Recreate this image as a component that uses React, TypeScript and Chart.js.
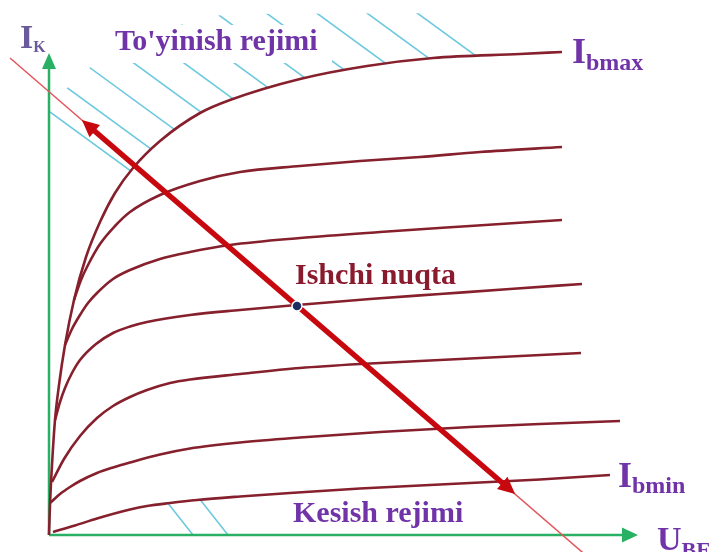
import React, { useEffect, useRef } from "react";
import { Chart, registerables } from "chart.js";

Chart.register(...registerables);

type Pt = [number, number];

// ---- axes (chart units: U along x, I along y, origin at the axes' crossing)
const uAxis: Pt[] = [[0, 0], [574, 0]];
const iAxis: Pt[] = [[0, 0], [0, 467]];

// ---- output characteristics, Ib max (top) ... Ib min (bottom)
const curveIbMax: Pt[] = [[0, 0], [1, 30], [3, 70], [6, 115], [10, 150], [16, 190], [25, 235], [37, 278], [51, 313], [66, 342], [84, 367], [111, 394], [151, 422], [181, 435], [251, 456], [318, 469], [384, 477], [471, 481], [513, 483]];
const curveIb2: Pt[] = [[25, 235], [32, 255], [39, 270], [51, 291], [66, 309], [81, 323], [111, 340], [151, 354], [191, 363], [251, 369], [311, 374], [371, 378], [431, 383], [513, 388]];
const curveIb3: Pt[] = [[16, 190], [23, 206], [31, 220], [39, 232], [48, 242], [64, 256], [81, 265], [111, 276], [141, 283], [181, 290], [251, 297], [331, 303], [421, 309], [513, 315]];
const curveIb4: Pt[] = [[6, 115], [11, 133], [16, 147], [23, 162], [31, 175], [47, 191], [64, 202], [81, 208.5], [98, 213], [141, 220], [191, 225], [248, 230], [321, 236], [391, 241], [461, 246], [533, 251]];
const curveIb5: Pt[] = [[3, 53], [15, 76], [31, 99], [48, 117], [64, 129], [81, 138], [98, 145], [121, 152], [141, 155.5], [191, 161], [251, 167], [311, 171], [371, 174], [431, 177], [532, 182]];
const curveIb6: Pt[] = [[1, 32], [11, 41], [21, 48], [31, 54], [48, 62], [64, 67.5], [81, 72.5], [111, 80.5], [141, 86.5], [191, 92.5], [251, 97.5], [331, 103], [421, 108], [491, 111], [571, 114]];
const curveIbMin: Pt[] = [[4, 3], [26, 9.5], [48, 16.5], [81, 25.5], [98, 29], [121, 32], [148, 35], [191, 38.5], [241, 42], [311, 46.5], [371, 49.5], [431, 52.5], [491, 55.5], [561, 60]];

// ---- load line and working point
const loadLine: Pt[] = [[-39, 477], [540, -23]];
const loadArrow: Pt[] = [[45, 404.5], [454, 51.5]];
const workingPoint: Pt[] = [[248, 229]];

// ---- hatched regions
const saturationZone: Pt[] = [[0, 405], [0, 422], [18, 447], [39, 466], [61, 483], [91, 497], [131, 510], [176, 521], [413, 522], [440, 470], [440, 84]];
const cutoffSpan: Pt = [113, 183];

// ---- labels
const labelSaturation = "To'yinish rejimi";
const labelCutoff = "Kesish rejimi";
const labelWorking = "Ishchi nuqta";

const SERIF = "'Liberation Serif', 'Times New Roman', serif";
const PURPLE = "#7034a8";
const CURVE = "#86202d";
const GREEN = "#28b064";
const HATCH = "#6cc9de";

const toXY = (p: Pt[]) => p.map(([x, y]) => ({ x, y }));

const curveDs = (p: Pt[]) => ({
  data: toXY(p),
  borderColor: CURVE,
  backgroundColor: CURVE,
  borderWidth: 2.6,
  pointRadius: 0,
  cubicInterpolationMode: "monotone",
  order: 50,
});

const IDX_MAX = 2;
const IDX_MIN = 8;

const arrowPlugin = {
  id: "arrowHeads",
  afterDatasetDraw(chart: any, args: any) {
    const ds: any = chart.data.datasets[args.index];
    const spec = ds.arrowHead;
    if (!spec) return;
    const pts = args.meta.data;
    const ctx = chart.ctx;
    const head = (base: any, prev: any) => {
      const a = Math.atan2(base.y - prev.y, base.x - prev.x);
      ctx.save();
      ctx.translate(base.x, base.y);
      ctx.rotate(a);
      ctx.beginPath();
      ctx.moveTo(spec.len, 0);
      ctx.lineTo(-1, -spec.half);
      ctx.lineTo(-1, spec.half);
      ctx.closePath();
      ctx.fillStyle = ds.borderColor;
      ctx.fill();
      ctx.restore();
    };
    if (spec.end) head(pts[pts.length - 1], pts[pts.length - 2]);
    if (spec.start) head(pts[0], pts[1]);
  },
};

function hatchLines(ctx: CanvasRenderingContext2D, W: number, H: number, rx: number, ry: number, slope: number, gap: number) {
  const c0 = ry - slope * rx;
  const nMin = Math.floor((-slope * W - c0) / gap) - 1;
  const nMax = Math.ceil((H - c0) / gap) + 1;
  ctx.beginPath();
  for (let n = nMin; n <= nMax; n++) {
    const c = c0 + n * gap;
    ctx.moveTo(0, c);
    ctx.lineTo(W, c + slope * W);
  }
  ctx.stroke();
}

const hatchPlugin = {
  id: "hatch",
  beforeDatasetsDraw(chart: any) {
    const { ctx, chartArea } = chart;
    const xs = chart.scales.x;
    const ys = chart.scales.y;
    const P = (p: Pt) => [xs.getPixelForValue(p[0]), ys.getPixelForValue(p[1])];
    const [ox, oy] = P([0, 0]);
    const W = chart.width;
    const H = chart.height;
    const lineEl = (idx: number) => {
      const el = chart.getDatasetMeta(idx).dataset;
      el.updateControlPoints(chartArea, "x");
      return el;
    };

    // saturation region (above Ib max)
    ctx.save();
    const top = lineEl(IDX_MAX);
    ctx.beginPath();
    top.path(ctx);
    const e1 = top.points[top.points.length - 1];
    ctx.lineTo(e1.x, 0);
    ctx.lineTo(ox, 0);
    ctx.closePath();
    ctx.clip();
    ctx.beginPath();
    saturationZone.forEach((p, k) => {
      const [x, y] = P(p);
      if (k === 0) ctx.moveTo(x, y);
      else ctx.lineTo(x, y);
    });
    ctx.closePath();
    ctx.clip();
    ctx.strokeStyle = HATCH;
    ctx.lineWidth = 1.6;
    hatchLines(ctx, W, H, ox + 1, oy - 423, 0.73, 36.7);
    ctx.restore();

    // cut-off region (below Ib min)
    ctx.save();
    const bot = lineEl(IDX_MIN);
    ctx.beginPath();
    bot.path(ctx);
    const e7 = bot.points[bot.points.length - 1];
    const s7 = bot.points[0];
    ctx.lineTo(e7.x, oy);
    ctx.lineTo(s7.x, oy);
    ctx.closePath();
    ctx.clip();
    const [cx0] = P([cutoffSpan[0], 0]);
    const [cx1] = P([cutoffSpan[1], 0]);
    ctx.beginPath();
    ctx.rect(cx0, 0, cx1 - cx0, oy);
    ctx.clip();
    ctx.strokeStyle = HATCH;
    ctx.lineWidth = 1.6;
    hatchLines(ctx, W, H, ox + 144, oy, 1.27, 44.45);
    ctx.restore();

    // white ground behind the saturation label
    ctx.save();
    ctx.fillStyle = "#ffffff";
    ctx.fillRect(100, 25, 232, 38);
    ctx.restore();
  },
};

const labelPlugin = {
  id: "labels",
  afterDraw(chart: any) {
    const ctx = chart.ctx;
    const xs = chart.scales.x;
    const ys = chart.scales.y;
    const P = (p: Pt) => [xs.getPixelForValue(p[0]), ys.getPixelForValue(p[1])];
    const put = (s: string, x: number, y: number, size: number, color: string, weight = "bold") => {
      ctx.font = `${weight} ${size}px ${SERIF}`;
      ctx.fillStyle = color;
      ctx.textAlign = "left";
      ctx.textBaseline = "alphabetic";
      ctx.fillText(s, x, y);
      return ctx.measureText(s).width;
    };
    ctx.save();
    // I_K at top of vertical axis
    const [iTx, iTy] = P(iAxis[iAxis.length - 1]);
    let w = put("I", iTx - 29, iTy - 20, 34, "#6a5a9c");
    put("K", iTx - 29 + w, iTy - 16, 16, "#6a5a9c");
    // U_BE at the end of horizontal axis
    const [uTx, uTy] = P(uAxis[uAxis.length - 1]);
    w = put("U", uTx + 34, uTy + 15, 34, PURPLE);
    put("BE", uTx + 34 + w, uTy + 22, 22, PURPLE);
    // Ib max / Ib min
    const [mx, my] = P(curveIbMax[curveIbMax.length - 1]);
    w = put("I", mx + 10, my + 11, 36, PURPLE);
    put("bmax", mx + 10 + w, my + 18, 24, PURPLE);
    const [nx, ny] = P(curveIbMin[curveIbMin.length - 1]);
    w = put("I", nx + 8, ny + 12, 36, PURPLE);
    put("bmin", nx + 8 + w, ny + 18, 24, PURPLE);
    // working point
    const [wx, wy] = P(workingPoint[0]);
    put(labelWorking, wx - 2, wy - 22, 30, "#8a1b2e");
    // regimes
    put(labelSaturation, 115, 50, 30, PURPLE);
    put(labelCutoff, 293, 522, 30, PURPLE);
    ctx.restore();
  },
};

export default function App() {
  const ref = useRef<HTMLCanvasElement>(null);
  useEffect(() => {
    const chart = new Chart(ref.current as HTMLCanvasElement, {
      type: "line",
      data: {
        datasets: [
          { data: toXY(iAxis), borderColor: GREEN, backgroundColor: GREEN, borderWidth: 2.5, pointRadius: 0, order: 60, arrowHead: { end: true, len: 15, half: 7 } } as any,
          { data: toXY(uAxis), borderColor: GREEN, backgroundColor: GREEN, borderWidth: 2.5, pointRadius: 0, order: 60, arrowHead: { end: true, len: 15, half: 7.5 } } as any,
          curveDs(curveIbMax) as any,
          curveDs(curveIb2) as any,
          curveDs(curveIb3) as any,
          curveDs(curveIb4) as any,
          curveDs(curveIb5) as any,
          curveDs(curveIb6) as any,
          curveDs(curveIbMin) as any,
          { data: toXY(loadLine), borderColor: "#e4545c", backgroundColor: "#e4545c", borderWidth: 1.5, pointRadius: 0, order: 40 } as any,
          { data: toXY(loadArrow), borderColor: "#c8080f", backgroundColor: "#c8080f", borderWidth: 5.5, borderCapStyle: "butt", pointRadius: 0, order: 30, arrowHead: { start: true, end: true, len: 16, half: 8 } } as any,
          { data: toXY(workingPoint), showLine: false, pointRadius: 5, pointBackgroundColor: "#1b2f63", pointBorderColor: "#ffffff", pointBorderWidth: 1.5, order: 10 } as any,
        ],
      },
      options: {
        responsive: false,
        animation: false,
        events: [],
        layout: { padding: 0, autoPadding: false },
        scales: {
          x: { type: "linear", min: -49, max: 663, display: false },
          y: { type: "linear", min: -17, max: 535, display: false },
        },
        plugins: { legend: { display: false }, tooltip: { enabled: false } },
      },
      plugins: [hatchPlugin, arrowPlugin, labelPlugin],
    });
    return () => chart.destroy();
  }, []);
  return (
    <div style={{ position: "absolute", left: 0, top: 0, width: 712, height: 552, background: "#ffffff" }}>
      <canvas ref={ref} width={712} height={552} style={{ display: "block", width: 712, height: 552 }} />
    </div>
  );
}
